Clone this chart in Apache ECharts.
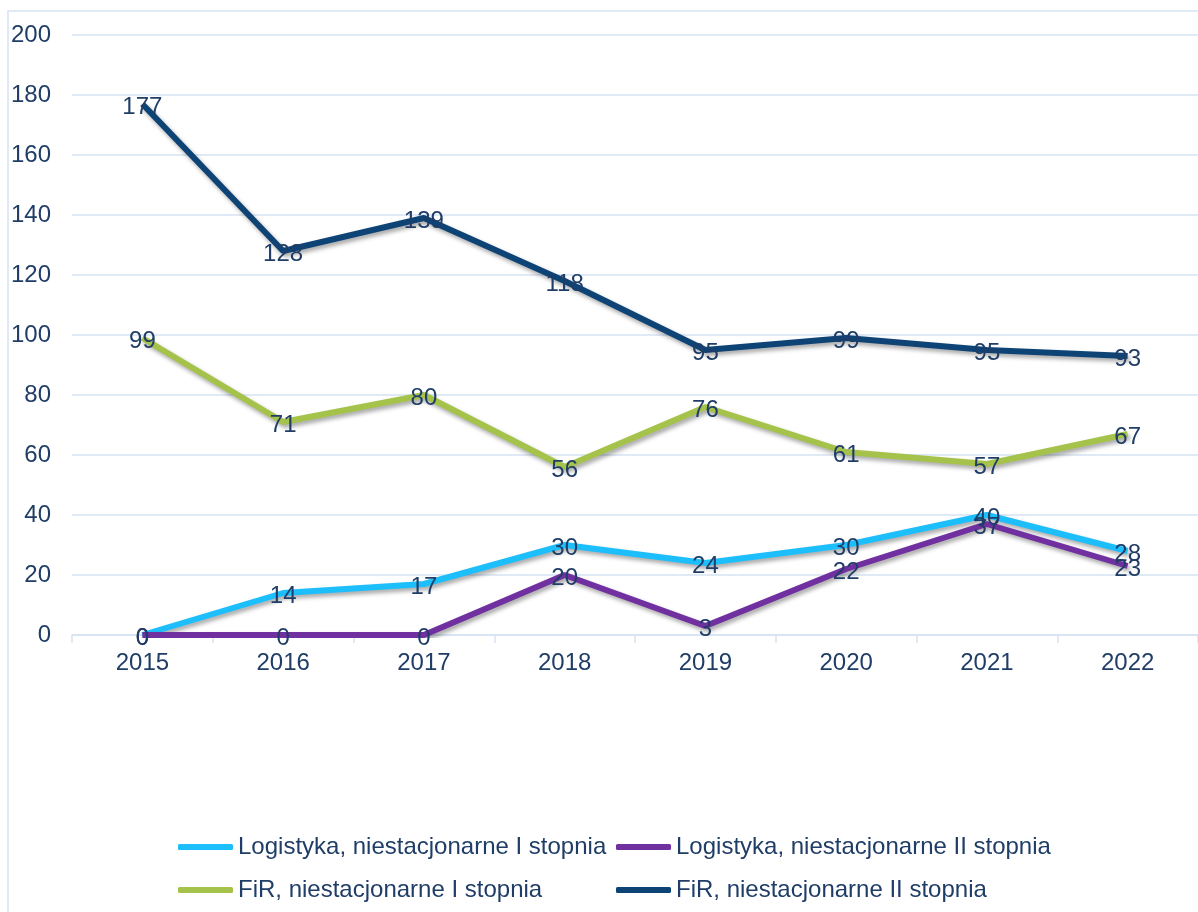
<!DOCTYPE html>
<html>
<head>
<meta charset="utf-8">
<script src="https://cdn.jsdelivr.net/npm/echarts@6/dist/echarts.min.js"></script>
<style>
  html, body { margin: 0; padding: 0; background: #fff; }
  #main { width: 1198px; height: 912px; }
</style>
</head>
<body>
<div id="main"></div>
<script>
const years = ['2015', '2016', '2017', '2018', '2019', '2020', '2021', '2022']
const logistykaI = [0, 14, 17, 30, 24, 30, 40, 28]
const logistykaII = [0, 0, 0, 20, 3, 22, 37, 23]
const firI = [99, 71, 80, 56, 76, 61, 57, 67]
const firII = [177, 128, 139, 118, 95, 99, 95, 93]

const textColor = '#1F3D66'
const gridColor = '#D6E3F3'
const font = 'Liberation Sans, Arial, sans-serif'
const fs = 24

function makeSeries(name, data, color) {
  return {
    name: name,
    type: 'line',
    data: data,
    symbol: 'circle',
    symbolSize: 0.01,
    color: color,
    lineStyle: {
      width: 6,
      color: color,
      shadowColor: 'rgba(0,0,0,0.35)',
      shadowBlur: 4,
      shadowOffsetX: 2,
      shadowOffsetY: 3
    },
    label: {
      show: true,
      position: 'inside',
      offset: [0, 3],
      color: textColor,
      fontSize: fs,
      fontFamily: font
    },
    emphasis: { disabled: true }
  }
}

const chart = echarts.init(document.getElementById('main'))

const legendText = { color: textColor, fontSize: fs, fontFamily: font, lineHeight: 30 }

const option = {
  animation: false,
  textStyle: { fontFamily: font },
  graphic: [
    {
      type: 'rect',
      shape: { x: 8, y: 11, width: 1400, height: 1100 },
      style: { fill: 'none', stroke: gridColor, lineWidth: 1.5 },
      silent: true
    }
  ],
  grid: { left: 72, right: -13, top: 35, bottom: 277 },
  legend: [
    {
      orient: 'vertical',
      left: 178,
      top: 832,
      padding: 0,
      itemWidth: 55,
      itemHeight: 6,
      itemGap: 13,
      icon: 'roundRect',
      data: ['Logistyka, niestacjonarne I stopnia', 'FiR, niestacjonarne I stopnia'],
      textStyle: legendText
    },
    {
      orient: 'vertical',
      left: 616,
      top: 832,
      padding: 0,
      itemWidth: 55,
      itemHeight: 6,
      itemGap: 13,
      icon: 'roundRect',
      data: ['Logistyka, niestacjonarne II stopnia', 'FiR, niestacjonarne II stopnia'],
      textStyle: legendText
    }
  ],
  xAxis: {
    type: 'category',
    data: years,
    boundaryGap: true,
    axisLine: { lineStyle: { color: gridColor, width: 1.5 } },
    axisTick: { show: true, length: 8, lineStyle: { color: gridColor, width: 1.5 } },
    axisLabel: { color: textColor, fontSize: fs, fontFamily: font, margin: 16 }
  },
  yAxis: {
    type: 'value',
    min: 0,
    max: 200,
    interval: 20,
    axisLine: { show: false },
    axisTick: { show: false },
    splitLine: { lineStyle: { color: gridColor, width: 1.5 } },
    axisLabel: { color: textColor, fontSize: fs, fontFamily: font, margin: 21 }
  },
  series: [
    makeSeries('Logistyka, niestacjonarne I stopnia', logistykaI, '#1CBEFC'),
    makeSeries('Logistyka, niestacjonarne II stopnia', logistykaII, '#7030A0'),
    makeSeries('FiR, niestacjonarne I stopnia', firI, '#A5C24A'),
    makeSeries('FiR, niestacjonarne II stopnia', firII, '#0E4376')
  ]
}

chart.setOption(option)
</script>
</body>
</html>
